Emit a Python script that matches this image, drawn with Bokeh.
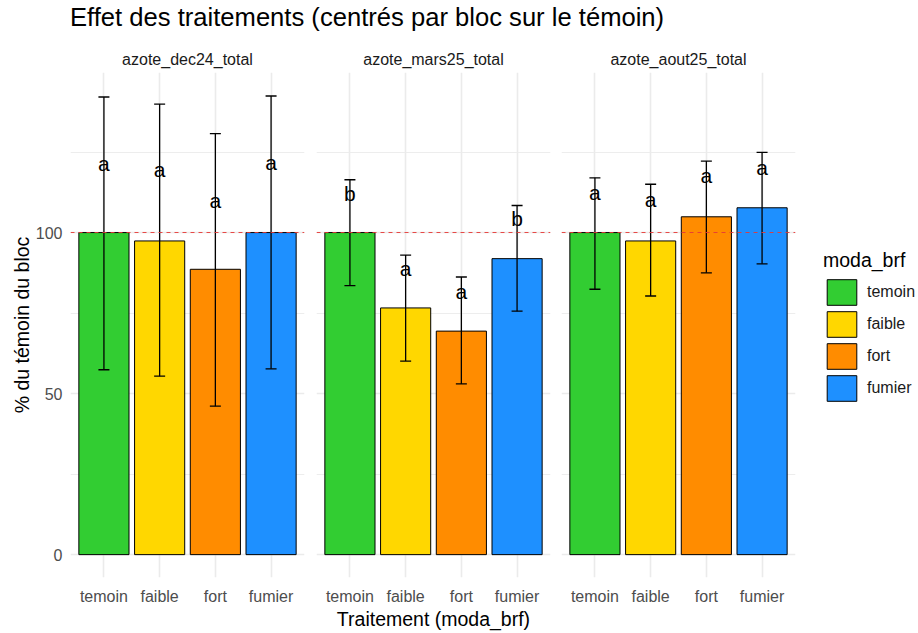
from bokeh.plotting import figure
from bokeh.models import (FactorRange, Range1d, FixedTicker, ColumnDataSource, Whisker,
                          TeeHead, Span, Legend, LegendItem, Div)
from bokeh.layouts import row, column
from bokeh.core.properties import value
from bokeh.embed import file_html
from bokeh.resources import INLINE

# ---------------- data ----------------
treatments = ["temoin", "faible", "fort", "fumier"]
panels = ["azote_dec24_total", "azote_mars25_total", "azote_aout25_total"]

dec24_mean = [100, 97.4, 88.6, 100]
dec24_low = [57.4, 55.4, 46.1, 57.7]
dec24_high = [142.1, 139.9, 130.7, 142.4]
dec24_letters = ["a", "a", "a", "a"]
dec24_label_y = [121.5, 119.6, 110.1, 121.7]

mars25_mean = [100, 76.6, 69.4, 91.9]
mars25_low = [83.5, 60.1, 53.0, 75.6]
mars25_high = [116.4, 93.0, 86.2, 108.4]
mars25_letters = ["b", "a", "a", "b"]
mars25_label_y = [112.2, 88.7, 81.8, 104.5]

aout25_mean = [100, 97.4, 104.9, 107.7]
aout25_low = [82.4, 80.3, 87.5, 90.3]
aout25_high = [117.0, 115.0, 122.2, 124.9]
aout25_letters = ["a", "a", "a", "a"]
aout25_label_y = [112.4, 110.4, 117.6, 120.2]

y_ticks = [0, 50, 100]
y_minor = [25, 75, 125]
reference_level = 100

# ---------------- style ----------------
colors = ["#32CD32", "#FFD700", "#FF8C00", "#1E90FF"]
FONT = "Liberation Sans"
GRID = "#EBEBEB"
FIG_H = 590


def make_panel(name, mean, low, high, letters, label_y, kind):
    if kind == "first":
        w, bl, br = 310, 70, 6
    else:
        w, bl, br = 245, 6, 5
    p = figure(width=w, height=FIG_H,
               x_range=FactorRange(factors=treatments, range_padding=0.1,
                                   range_padding_units="absolute"),
               y_range=Range1d(-7.1, 149.7),
               output_backend="svg", toolbar_location=None,
               y_axis_location="left" if kind == "first" else None,
               min_border_left=bl, min_border_right=br,
               min_border_top=29, min_border_bottom=56,
               title=name)
    p.outline_line_color = None
    p.background_fill_color = "white"
    p.border_fill_color = "white"

    p.title.align = "center"
    p.title.text_font = FONT
    p.title.text_font_size = "16px"
    p.title.text_font_style = "normal"
    p.title.text_color = "#1A1A1A"
    p.title.standoff = 0
    p.title.padding = 5

    # grids
    p.xgrid.grid_line_color = GRID
    p.xgrid.grid_line_width = 1.6
    p.ygrid.ticker = FixedTicker(ticks=y_ticks, minor_ticks=y_minor)
    p.ygrid.grid_line_color = GRID
    p.ygrid.grid_line_width = 1.6
    p.ygrid.minor_grid_line_color = GRID
    p.ygrid.minor_grid_line_width = 0.9

    # x axis
    xa = p.xaxis[0]
    xa.axis_line_color = None
    xa.major_tick_line_color = None
    xa.minor_tick_line_color = None
    xa.major_label_text_font = FONT
    xa.major_label_text_font_size = "16px"
    xa.major_label_text_color = "#4D4D4D"
    xa.major_label_standoff = 4
    if kind == "mid":
        xa.axis_label = "Traitement (moda_brf)"
        xa.axis_label_text_font = FONT
        xa.axis_label_text_font_size = "19.5px"
        xa.axis_label_text_font_style = "normal"
        xa.axis_label_text_color = "black"
        xa.axis_label_standoff = 0

    if kind == "first":
        ya = p.yaxis[0]
        ya.ticker = FixedTicker(ticks=y_ticks, minor_ticks=y_minor)
        ya.axis_line_color = None
        ya.major_tick_line_color = None
        ya.minor_tick_line_color = None
        ya.major_label_text_font = FONT
        ya.major_label_text_font_size = "16px"
        ya.major_label_text_color = "#4D4D4D"
        ya.major_label_standoff = 2
        ya.axis_label = "% du témoin du bloc"
        ya.axis_label_text_font = FONT
        ya.axis_label_text_font_size = "19.5px"
        ya.axis_label_text_font_style = "normal"
        ya.axis_label_text_color = "black"
        ya.axis_label_standoff = 0

    src = ColumnDataSource(dict(x=treatments, mean=mean, low=low, high=high,
                                letter=letters, ly=label_y, color=colors))
    p.vbar(x="x", top="mean", bottom=0, width=0.9, source=src,
           fill_color="color", line_color="black", line_width=1)

    wh = Whisker(base="x", upper="high", lower="low", source=src, dimension="height",
                 line_color="black", line_width=1.3,
                 upper_head=TeeHead(size=11, line_color="black", line_width=1.3),
                 lower_head=TeeHead(size=11, line_color="black", line_width=1.3))
    wh.level = "annotation"
    p.add_layout(wh)

    sp = Span(location=reference_level, dimension="width", line_color="#E53935",
              line_alpha=0.9, line_width=1.1, line_dash="4 4")
    sp.level = "overlay"
    p.add_layout(sp)

    p.text(x="x", y="ly", text="letter", source=src, text_align="center",
           text_baseline="middle", text_font=value(FONT), text_font_size="21px",
           text_color="black")
    return p, src


p1, s1 = make_panel(panels[0], dec24_mean, dec24_low, dec24_high, dec24_letters, dec24_label_y, "first")
p2, s2 = make_panel(panels[1], mars25_mean, mars25_low, mars25_high, mars25_letters, mars25_label_y, "mid")
p3, s3 = make_panel(panels[2], aout25_mean, aout25_low, aout25_high, aout25_letters, aout25_label_y, "last")

# ---------------- legend (own canvas; its bar renderer is hidden) ----------------
lg = figure(width=118, height=FIG_H, x_range=FactorRange(factors=treatments),
            y_range=Range1d(0, 1),
            output_backend="svg", toolbar_location=None,
            x_axis_location=None, y_axis_location=None,
            min_border_left=0, min_border_right=0, min_border_top=0, min_border_bottom=0)
lg.grid.visible = False
lg.outline_line_color = None
lg.background_fill_color = "white"
lg.border_fill_color = "white"
proxy = lg.vbar(x="x", top="mean", bottom=0, width=0.9, source=s3,
                fill_color="color", line_color="black", line_width=1)
proxy.visible = False
items = [LegendItem(label=t, renderers=[proxy], index=i) for i, t in enumerate(treatments)]
leg = Legend(items=items, title="moda_brf", location=(23, 173),
             margin=0, padding=0, spacing=0,
             glyph_width=37, glyph_height=32, label_height=32,
             label_standoff=7, title_standoff=4,
             border_line_color=None, background_fill_alpha=0,
             inactive_fill_alpha=0)
leg.title_text_font = FONT
leg.title_text_font_size = "19.5px"
leg.title_text_font_style = "normal"
leg.title_text_color = "black"
leg.label_text_font = FONT
leg.label_text_font_size = "16px"
leg.label_text_color = "#1A1A1A"
lg.add_layout(leg, "center")

title = Div(text=('<div style="font-family:\'Liberation Sans\',Arial,sans-serif;'
                  'font-size:25.6px;line-height:23px;color:black;padding-left:70px;'
                  'padding-top:6px;white-space:nowrap;">'
                  'Effet des traitements (centrés par bloc sur le témoin)</div>'),
            width=918, height=43, margin=(0, 0, 0, 0))

layout = column(title, row(p1, p2, p3, lg, spacing=0), spacing=0)

open("out.html", "w").write(file_html(layout, INLINE))
